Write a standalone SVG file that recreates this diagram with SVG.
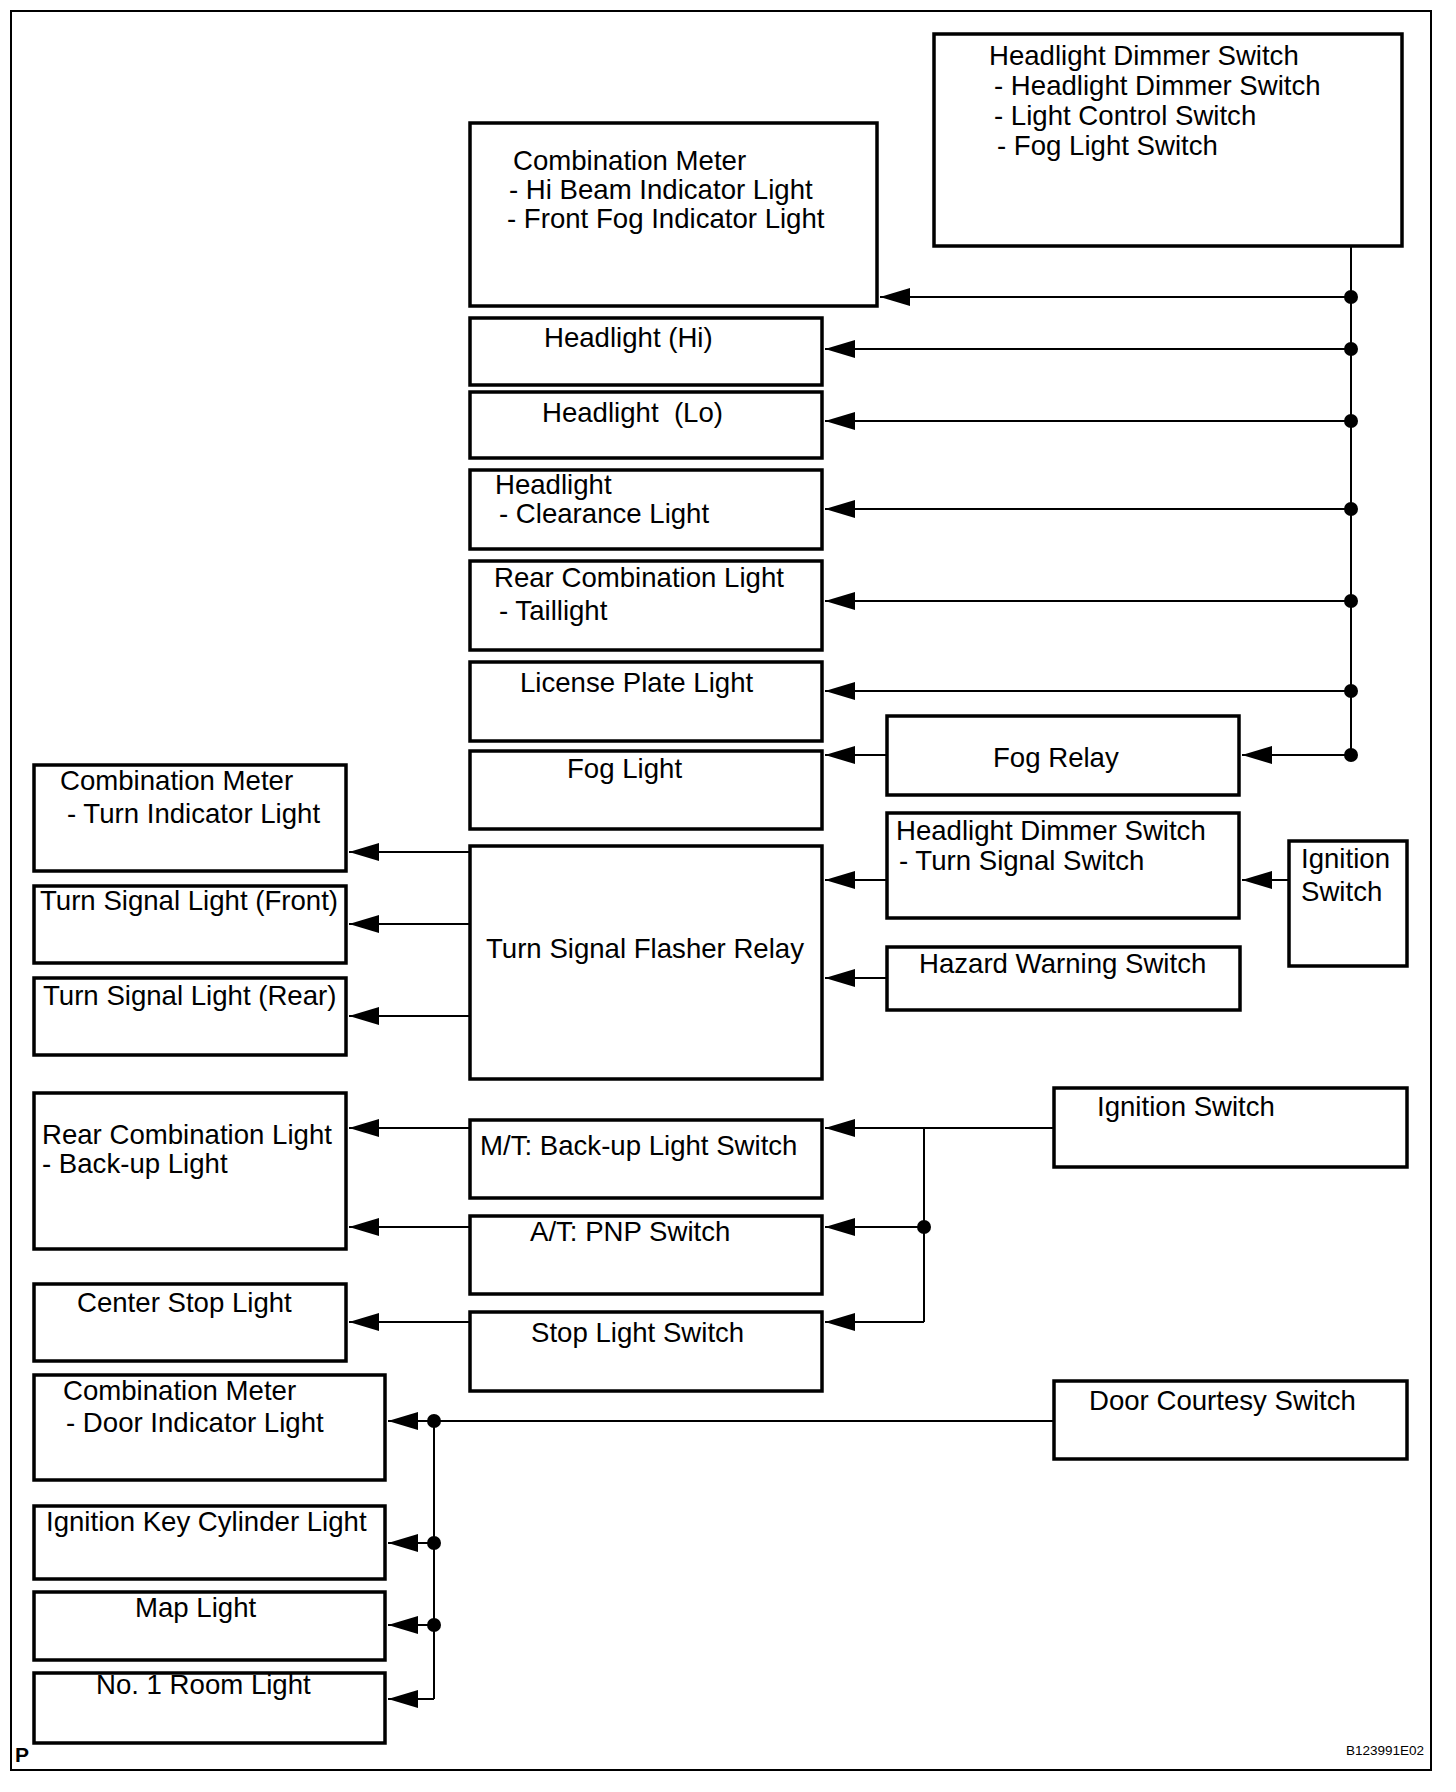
<svg xmlns="http://www.w3.org/2000/svg" width="1456" height="1792" viewBox="0 0 1456 1792">
<style>
.box{fill:#fff;stroke:#000;stroke-width:3.5}
.t{font-family:"Liberation Sans",Arial,sans-serif;font-size:27.6px;fill:#000}
.w{fill:none;stroke:#000;stroke-width:2}
.a{fill:none;stroke:#000;stroke-width:2;marker-end:url(#ah)}
.dot{fill:#000}
</style>
<defs>
<marker id="ah" viewBox="0 -9 30 18" refX="30" refY="0" markerWidth="30" markerHeight="18" markerUnits="userSpaceOnUse" orient="auto">
<path d="M0,-9 L30,0 L0,9 z" fill="#000"/>
</marker>
</defs>
<rect x="0" y="0" width="1456" height="1792" fill="#fff"/>
<rect x="11" y="11" width="1420" height="1759" fill="none" stroke="#000" stroke-width="2"/>

<g id="hds-main"><rect class="box" x="934" y="34" width="468" height="212"/>
<text class="t" x="989" y="65">Headlight Dimmer Switch</text>
<text class="t" x="994" y="95">- Headlight Dimmer Switch</text>
<text class="t" x="994" y="125">- Light Control Switch</text>
<text class="t" x="997" y="155">- Fog Light Switch</text></g>

<g id="comb-meter-hi"><rect class="box" x="470" y="123" width="407" height="183"/>
<text class="t" x="513" y="170">Combination Meter</text>
<text class="t" x="509" y="199">- Hi Beam Indicator Light</text>
<text class="t" x="507" y="228">- Front Fog Indicator Light</text></g>

<g id="headlight-hi"><rect class="box" x="470" y="318" width="352" height="67"/>
<text class="t" x="544" y="347">Headlight (Hi)</text></g>

<g id="headlight-lo"><rect class="box" x="470" y="392" width="352" height="66"/>
<text class="t" x="542" y="422">Headlight&#160; (Lo)</text></g>

<g id="clearance"><rect class="box" x="470" y="470" width="352" height="79"/>
<text class="t" x="495" y="494">Headlight</text>
<text class="t" x="499" y="523">- Clearance Light</text></g>

<g id="taillight"><rect class="box" x="470" y="561" width="352" height="89"/>
<text class="t" x="494" y="587">Rear Combination Light</text>
<text class="t" x="499" y="620">- Taillight</text></g>

<g id="license"><rect class="box" x="470" y="662" width="352" height="79"/>
<text class="t" x="520" y="692">License Plate Light</text></g>

<g id="fog-light"><rect class="box" x="470" y="751" width="352" height="78"/>
<text class="t" x="567" y="778">Fog Light</text></g>

<g id="fog-relay"><rect class="box" x="887" y="716" width="352" height="79"/>
<text class="t" x="993" y="767">Fog Relay</text></g>

<g id="flasher"><rect class="box" x="470" y="846" width="352" height="233"/>
<text class="t" x="486" y="958">Turn Signal Flasher Relay</text></g>

<g id="comb-meter-turn"><rect class="box" x="34" y="765" width="312" height="106"/>
<text class="t" x="60" y="790">Combination Meter</text>
<text class="t" x="67" y="823">- Turn Indicator Light</text></g>

<g id="turn-front"><rect class="box" x="34" y="886" width="312" height="77"/>
<text class="t" x="40" y="910">Turn Signal Light (Front)</text></g>

<g id="turn-rear"><rect class="box" x="34" y="978" width="312" height="77"/>
<text class="t" x="43" y="1005">Turn Signal Light (Rear)</text></g>

<g id="hds-turn"><rect class="box" x="887" y="813" width="352" height="105"/>
<text class="t" x="896" y="840">Headlight Dimmer Switch</text>
<text class="t" x="899" y="870">- Turn Signal Switch</text></g>

<g id="ign-small"><rect class="box" x="1289" y="841" width="118" height="125"/>
<text class="t" x="1301" y="868">Ignition</text>
<text class="t" x="1301" y="901">Switch</text></g>

<g id="hazard"><rect class="box" x="887" y="947" width="353" height="63"/>
<text class="t" x="919" y="973">Hazard Warning Switch</text></g>

<g id="backup"><rect class="box" x="34" y="1093" width="312" height="156"/>
<text class="t" x="42" y="1144">Rear Combination Light</text>
<text class="t" x="42" y="1173">- Back-up Light</text></g>

<g id="mt-switch"><rect class="box" x="470" y="1120" width="352" height="78"/>
<text class="t" x="480" y="1155">M/T: Back-up Light Switch</text></g>

<g id="pnp"><rect class="box" x="470" y="1216" width="352" height="78"/>
<text class="t" x="530" y="1241">A/T: PNP Switch</text></g>

<g id="stop-sw"><rect class="box" x="470" y="1312" width="352" height="79"/>
<text class="t" x="531" y="1342">Stop Light Switch</text></g>

<g id="center-stop"><rect class="box" x="34" y="1284" width="312" height="77"/>
<text class="t" x="77" y="1312">Center Stop Light</text></g>

<g id="ign-right"><rect class="box" x="1054" y="1088" width="353" height="79"/>
<text class="t" x="1097" y="1116">Ignition Switch</text></g>

<g id="door-sw"><rect class="box" x="1054" y="1381" width="353" height="78"/>
<text class="t" x="1089" y="1410">Door Courtesy Switch</text></g>

<g id="comb-meter-door"><rect class="box" x="34" y="1375" width="351" height="105"/>
<text class="t" x="63" y="1400">Combination Meter</text>
<text class="t" x="66" y="1432">- Door Indicator Light</text></g>

<g id="key-cyl"><rect class="box" x="34" y="1506" width="351" height="73"/>
<text class="t" x="46" y="1531">Ignition Key Cylinder Light</text></g>

<g id="map-light"><rect class="box" x="34" y="1592" width="351" height="68"/>
<text class="t" x="135" y="1617">Map Light</text></g>

<g id="room-light"><rect class="box" x="34" y="1673" width="351" height="70"/>
<text class="t" x="96" y="1694">No. 1 Room Light</text></g>

<g id="connectors">
<path class="w" d="M1351,246 V755"/>
<path class="a" d="M1351,297 H880"/>
<path class="a" d="M1351,349 H825"/>
<path class="a" d="M1351,421 H825"/>
<path class="a" d="M1351,509 H825"/>
<path class="a" d="M1351,601 H825"/>
<path class="a" d="M1351,691 H825"/>
<path class="a" d="M1351,755 H1242"/>
<path class="a" d="M887,755 H825"/>
<circle class="dot" cx="1351" cy="297" r="7"/>
<circle class="dot" cx="1351" cy="349" r="7"/>
<circle class="dot" cx="1351" cy="421" r="7"/>
<circle class="dot" cx="1351" cy="509" r="7"/>
<circle class="dot" cx="1351" cy="601" r="7"/>
<circle class="dot" cx="1351" cy="691" r="7"/>
<circle class="dot" cx="1351" cy="755" r="7"/>

<path class="a" d="M470,852 H349"/>
<path class="a" d="M470,924 H349"/>
<path class="a" d="M470,1016 H349"/>
<path class="a" d="M887,880 H825"/>
<path class="a" d="M1289,880 H1242"/>
<path class="a" d="M887,978 H825"/>

<path class="a" d="M470,1128 H349"/>
<path class="a" d="M470,1227 H349"/>
<path class="a" d="M470,1322 H349"/>
<path class="a" d="M1054,1128 H825"/>
<path class="w" d="M924,1128 V1322"/>
<path class="a" d="M924,1227 H825"/>
<path class="a" d="M924,1322 H825"/>
<circle class="dot" cx="924" cy="1227" r="7"/>

<path class="a" d="M1054,1421 H388"/>
<path class="w" d="M434,1421 V1699"/>
<path class="a" d="M434,1543 H388"/>
<path class="a" d="M434,1625 H388"/>
<path class="a" d="M434,1699 H388"/>
<circle class="dot" cx="434" cy="1421" r="7"/>
<circle class="dot" cx="434" cy="1543" r="7"/>
<circle class="dot" cx="434" cy="1625" r="7"/>
</g>

<text x="15" y="1762" font-family="Liberation Sans,Arial,sans-serif" font-size="21" font-weight="bold">P</text>
<text x="1424" y="1755" text-anchor="end" font-family="Liberation Sans,Arial,sans-serif" font-size="13.5">B123991E02</text>
</svg>
